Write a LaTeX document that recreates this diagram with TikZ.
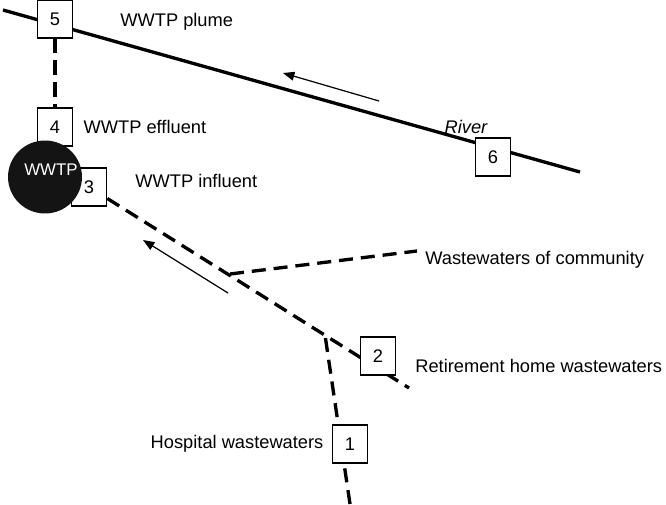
\documentclass[tikz,border=0pt]{standalone}
\usepackage{fontspec}
\setmainfont{Liberation Sans}
\usetikzlibrary{positioning,shapes.geometric,arrows.meta,backgrounds}

\begin{document}
\begin{tikzpicture}[x=0.02cm,y=-0.02cm,
		font=\fontsize{10.4}{12}\selectfont,
		site/.style={draw,fill=white,line width=0.6pt,minimum width=0.71cm,minimum height=0.76cm,inner sep=0pt},
		sewer/.style={line width=1.9pt,dash pattern=on 8pt off 4.5pt},
		flow/.style={line width=0.7pt,-{Triangle[length=6.5pt,width=5pt]}},
		txt/.style={inner sep=0pt}]
		\useasboundingbox (0,0) rectangle (666,504);
		% sampling points
		\node(5) [site] at (55,19) {5};
		\node(4) [site] at (55,127) {4};
		\node(3) [site] at (89,187) {3};
		\node(wwtp) [ellipse,fill=black!92,minimum width=1.48cm,minimum height=1.46cm,inner sep=0pt] at (45,177) {};
		\node(wwtplabel) [txt,text=white,font=\fontsize{9.6}{11}\selectfont] at (51,170) {WWTP};
		\node(6) [site] at (493,157) {6};
		\node(2) [site] at (378,356) {2};
		\node(1) [site] at (350,444) {1};
		\coordinate (riverW) at (3,10);
		\coordinate (riverE) at (580,172);
		\coordinate (sewerE) at (409,388);
		\coordinate (jC) at (230,274);
		\coordinate (commE) at (417,251);
		\coordinate (jH) at (325,335);
		\coordinate (hospS) at (350,504);
		\begin{scope}[on background layer]
			\draw[line width=1.9pt] (riverW) -- (riverE);
			\draw[sewer] (5) -- (4);
			\draw[sewer] (3) -- (sewerE);
			\draw[sewer] (jC) -- (commE);
			\draw[sewer] (hospS) -- (jH);
		\end{scope}
		% flow directions
		\coordinate (riverA) at (379,101);
		\coordinate (riverB) at (283,73);
		\coordinate (sewerA) at (228,293);
		\coordinate (sewerB) at (143,240);
		\draw[flow] (riverA) -- (riverB);
		\draw[flow] (sewerA) -- (sewerB);
		% labels
		\node(plume) [txt,anchor=west] at (120,22) {WWTP plume};
		\node(effluent) [txt,right=0.2cm of 4] {WWTP effluent};
		\node(influent) [txt,anchor=west] at (135,181) {WWTP influent};
		\node(river) [txt,font=\fontsize{10.4}{12}\selectfont\itshape] at (466,127) {River};
		\node(community) [txt,anchor=west] at (425,260) {Wastewaters of community};
		\node(retirement) [txt,anchor=west] at (415,366) {Retirement home wastewaters};
		\node(hospital) [txt,left=0.16cm of 1] {Hospital wastewaters};
	\end{tikzpicture}
\end{document}
